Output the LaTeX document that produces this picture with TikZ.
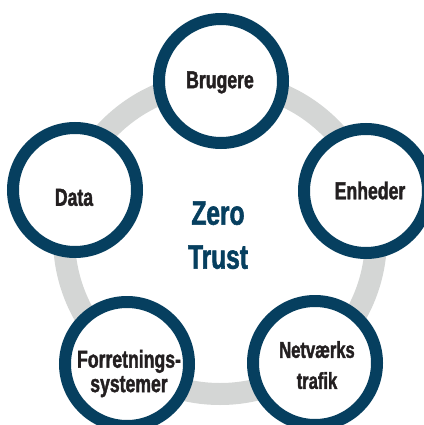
\documentclass[tikz,border=0pt]{standalone}
\usepackage{fontspec}
\newfontfamily\lblfont[FakeStretch=0.72, FakeBold=1.6]{Liberation Sans}
\definecolor{zblue}{RGB}{6,63,95}
\definecolor{zgrey}{RGB}{212,214,213}
\definecolor{ztext}{RGB}{35,31,32}
\tikzset{
  bubble/.style={circle, draw=zblue, line width=12pt, fill=white, minimum size=124pt, inner sep=0pt},
  lbl/.style={font=\lblfont\bfseries\fontsize{24.5}{24.4}\selectfont, text=ztext, align=center, inner sep=0pt, text depth=0pt},
  lblone/.style={lbl, text height=17.5pt},
  title/.style={font=\lblfont\bfseries\fontsize{34}{44}\selectfont, text=zblue, align=center, inner sep=0pt, text depth=0pt}
}
\begin{document}
\begin{tikzpicture}[x=1pt,y=-1pt]
\useasboundingbox (0,0) rectangle (423,425);
\coordinate (c) at (220,238);
\draw[zgrey, line width=22pt] (c) circle[radius=156];
\node[bubble] (b1) at (221,81) {};
\node[bubble] (b2) at (366,191) {};
\node[bubble] (b3) at (315,363) {};
\node[bubble] (b4) at (127,364) {};
\node[bubble] (b5) at (75,190) {};
\node[lblone] (t1) at (220,79.5) {Brugere};
\node[lblone] (t2) at (370,190.5) {Enheder};
\node[lbl, font=\lblfont\bfseries\fontsize{23}{31}\selectfont] (t3) at (317,365) {Netværks\\trafik};
\node[lbl] (t4) at (129,371) {Forretnings-\\systemer};
\node[lblone] (t5) at (74,197) {Data};
\node[title] (zt) at (218,235) {Zero\\Trust};
\end{tikzpicture}
\end{document}
